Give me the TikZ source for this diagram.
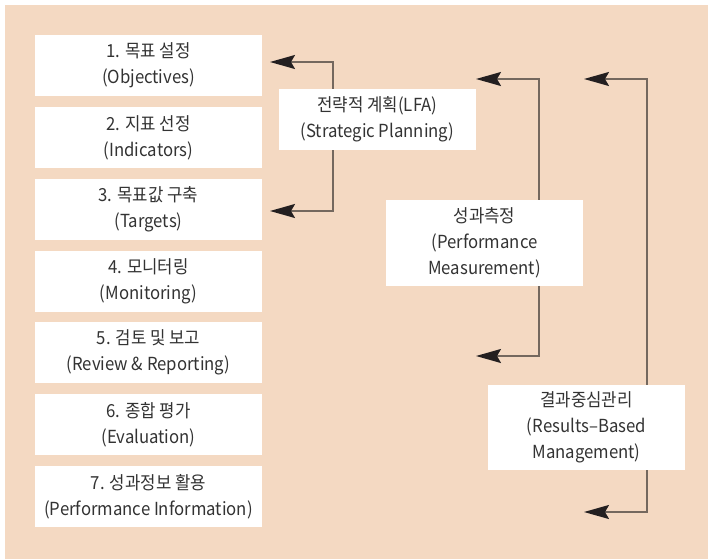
\documentclass[tikz,border=0pt]{standalone}
\usepackage{fontspec}
\usetikzlibrary{arrows.meta}
\newfontfamily\kr[FakeStretch=0.93]{Noto Sans CJK KR}
\definecolor{peach}{HTML}{F4D9C2}
\definecolor{inkgray}{HTML}{333333}
\definecolor{linebrown}{HTML}{74685E}
\definecolor{tipblack}{HTML}{231F20}
\tikzset{
  box/.style={fill=white, draw=none, inner sep=0pt, align=center,
    text=inkgray, font=\kr\fontsize{18}{26}\selectfont},
  stepbox/.style={box, minimum width=227pt, minimum height=61pt},
  sidebox/.style={box, minimum width=197pt},
  link/.style={draw=linebrown, line width=1.8pt,
    -{Stealth[length=25pt,width=14pt,inset=4pt,fill=tipblack,color=tipblack]}}
}
\begin{document}
\begin{tikzpicture}[x=1pt,y=-1pt]
  % page and panel
  \fill[white] (0,0) rectangle (708,559);
  \fill[peach] (5,5) rectangle (708,559);
  \useasboundingbox (0,0) rectangle (708,559);

  % the seven steps
  \node[stepbox] (s1) at (148.5,65.5)  {1. 목표 설정\\(Objectives)};
  \node[stepbox] (s2) at (148.5,137.5) {2. 지표 선정\\(Indicators)};
  \node[stepbox] (s3) at (148.5,209)   {3. 목표값 구축\\(Targets)};
  \node[stepbox] (s4) at (148.5,281)   {4. 모니터링\\(Monitoring)};
  \node[stepbox] (s5) at (148.5,352.5) {5. 검토 및 보고\\(Review \& Reporting)};
  \node[stepbox] (s6) at (148.5,424.5) {6. 종합 평가\\(Evaluation)};
  \node[stepbox] (s7) at (148.5,496.5) {7. 성과정보 활용\\(Performance Information)};

  % the three spans
  \node[sidebox, minimum height=61pt] (lfa) at (377.5,119.5)
    {전략적 계획(LFA)\\(Strategic Planning)};
  \node[sidebox, minimum height=86pt] (pm) at (484.5,243)
    {성과측정\\(Performance\\Measurement)};
  \node[sidebox, minimum height=85pt] (rbm) at (586.5,427.5)
    {결과중심관리\\(Results–Based\\Management)};

  % arrow ends
  \coordinate (lfaTop) at (270,62);
  \coordinate (lfaBot) at (270,211);
  \coordinate (pmTop)  at (476,79);
  \coordinate (pmBot)  at (476,356);
  \coordinate (rbmTop) at (584,79);
  \coordinate (rbmBot) at (584,512);

  % brackets
  \draw[link] (lfa.north -| 333,0) |- (lfaTop);
  \draw[link] (lfa.south -| 333,0) |- (lfaBot);
  \draw[link] (pm.north -| 539,0) |- (pmTop);
  \draw[link] (pm.south -| 539,0) |- (pmBot);
  \draw[link] (rbm.north -| 647,0) |- (rbmTop);
  \draw[link] (rbm.south -| 647,0) |- (rbmBot);
\end{tikzpicture}
\end{document}
